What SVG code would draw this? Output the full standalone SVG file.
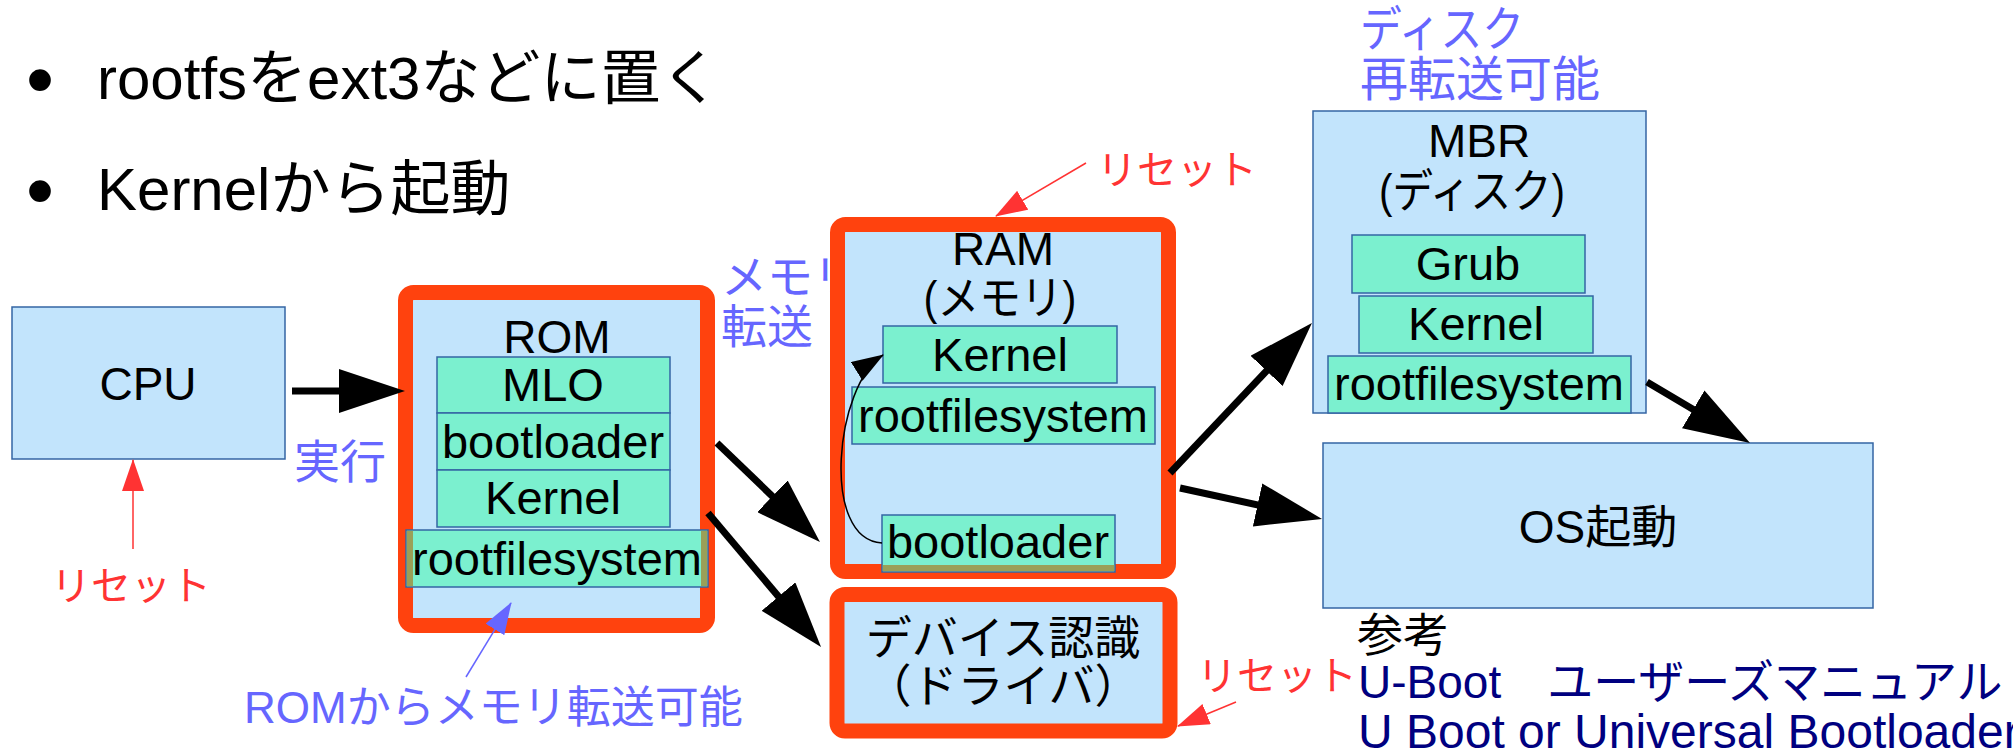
<svg xmlns="http://www.w3.org/2000/svg" width="2013" height="753" viewBox="0 0 2013 753">
<style>
text{font-family:'Liberation Sans','Noto Sans CJK JP',sans-serif;}
.t46{font-size:46px;fill:#000;}
.t47{font-size:47px;fill:#000;}
.mid{text-anchor:middle;}
.title{font-size:60px;fill:#000;}
.dot{font-size:80px;fill:#000;}
.blue{font-size:46px;fill:#6666ff;}
.red{font-size:40px;fill:#ff3333;}
.navy{font-size:46px;fill:#000080;}
.plain{fill:#c2e4fc;stroke:#3465a4;stroke-width:1.5;}
.hot{fill:#c2e4fc;stroke:#ff420e;stroke-width:15;}
.mint{fill:#7bf0cf;stroke:#3465a4;stroke-width:1.5;}
.olive{fill:#9aa058;}
.big{stroke:#000;stroke-width:7;fill:none;marker-end:url(#bigArrow);}
.thinr{stroke:#ff3333;stroke-width:1.5;fill:none;marker-end:url(#redArrow);}
.thinb{stroke:#6666ff;stroke-width:1.5;fill:none;marker-end:url(#blueArrow);}
.think{stroke:#000;stroke-width:1.5;fill:none;marker-end:url(#blackArrow);}
</style>
<defs>
<marker id="bigArrow" markerUnits="userSpaceOnUse" markerWidth="66" markerHeight="44" viewBox="0 0 66 44" refX="54" refY="22" orient="auto"><path d="M0,0 L66,22 L0,44 z" fill="#000"/></marker>
<marker id="redArrow" markerUnits="userSpaceOnUse" markerWidth="32" markerHeight="22" viewBox="0 0 32 22" refX="31" refY="11" orient="auto"><path d="M0,0 L32,11 L0,22 z" fill="#ff3333"/></marker>
<marker id="blueArrow" markerUnits="userSpaceOnUse" markerWidth="32" markerHeight="22" viewBox="0 0 32 22" refX="31" refY="11" orient="auto"><path d="M0,0 L32,11 L0,22 z" fill="#6666ff"/></marker>
<marker id="blackArrow" markerUnits="userSpaceOnUse" markerWidth="32" markerHeight="22" viewBox="0 0 32 22" refX="31" refY="11" orient="auto"><path d="M0,0 L32,11 L0,22 z" fill="#000"/></marker>
</defs>
<rect width="2013" height="753" fill="#fff"/>

<g id="bullets">
<text class="dot" x="26" y="107">•</text>
<text class="title" x="97" y="99">rootfsをext3などに置く</text>
<text class="dot" x="26" y="218">•</text>
<text class="title" x="97" y="210">Kernelから起動</text>
</g>

<g id="labels">
<text class="blue" x="294" y="478">実行</text>
<text class="red" x="51" y="600">リセット</text>
<text class="blue" x="244" y="723" style="font-size:44px">ROMからメモリ転送可能</text>
<text class="blue" x="721" y="293">メモリ</text>
<text class="blue" x="721" y="343">転送</text>
<text class="red" x="1097" y="184">リセット</text>
<text class="red" x="1197" y="690">リセット</text>
<text class="blue" x="1360" y="46" style="font-size:48px" textLength="164" lengthAdjust="spacingAndGlyphs">ディスク</text>
<text class="blue" x="1360" y="96" style="font-size:48px">再転送可能</text>
<text class="t46" x="1357" y="651">参考</text>
<text class="navy" x="1358" y="698">U-Boot　ユーザーズマニュアル</text>
<text class="navy" x="1358" y="748" style="font-size:48px">U Boot or Universal Bootloader</text>
</g>

<g id="cpu">
<rect class="plain" x="12" y="307" width="273" height="152"/>
<text class="t46 mid" x="148" y="400">CPU</text>
</g>

<g id="rom">
<rect class="hot" x="405.5" y="292.5" width="302" height="333" rx="8"/>
<text class="t46 mid" x="557" y="353">ROM</text>
<rect class="mint" x="437" y="357" width="233" height="56"/>
<text class="t47 mid" x="553" y="401">MLO</text>
<rect class="mint" x="437" y="413" width="233" height="57"/>
<text class="t47 mid" x="553" y="458">bootloader</text>
<rect class="mint" x="437" y="470" width="233" height="57"/>
<text class="t47 mid" x="553" y="514">Kernel</text>
<rect class="mint" x="406" y="530" width="302" height="57"/>
<rect class="olive" x="406.8" y="530.8" width="6.2" height="55.4"/>
<rect class="olive" x="701" y="530.8" width="6.2" height="55.4"/>
<text class="t47 mid" x="557" y="575">rootfilesystem</text>
</g>

<g id="ram">
<rect class="hot" x="837.5" y="224.5" width="331" height="347" rx="8"/>
<text class="t46 mid" x="1003" y="265">RAM</text>
<text class="t46 mid" x="1000" y="314" textLength="153" lengthAdjust="spacingAndGlyphs">(メモリ)</text>
<rect class="mint" x="883" y="326" width="234" height="57"/>
<text class="t47 mid" x="1000" y="371">Kernel</text>
<rect class="mint" x="852" y="387" width="303" height="57"/>
<text class="t47 mid" x="1003" y="432">rootfilesystem</text>
<rect class="mint" x="882" y="515" width="233" height="57"/>
<rect class="olive" x="882.8" y="565" width="231.4" height="6.2"/>
<text class="t47 mid" x="998" y="558">bootloader</text>
</g>

<g id="device">
<rect class="hot" x="837" y="594.5" width="333" height="136.5" rx="8"/>
<text class="t46 mid" x="1003" y="654">デバイス認識</text>
<text class="t46 mid" x="1003" y="702">（ドライバ）</text>
</g>

<g id="mbr">
<rect class="plain" x="1313" y="111" width="333" height="302"/>
<text class="t46 mid" x="1479" y="157">MBR</text>
<text class="t46 mid" x="1472" y="207" textLength="186" lengthAdjust="spacingAndGlyphs">(ディスク)</text>
<rect class="mint" x="1352" y="235" width="233" height="58"/>
<text class="t47 mid" x="1468" y="280">Grub</text>
<rect class="mint" x="1359" y="296" width="234" height="57"/>
<text class="t47 mid" x="1476" y="340">Kernel</text>
<rect class="mint" x="1328" y="356" width="303" height="57"/>
<text class="t47 mid" x="1479" y="400">rootfilesystem</text>
</g>

<g id="os">
<rect class="plain" x="1323" y="443" width="550" height="165"/>
<text class="t46 mid" x="1598" y="543">OS起動</text>
</g>

<g id="connectors">
<path class="big" d="M292,391 L393,391"/>
<path class="big" d="M717,443 L811.3,533.7"/>
<path class="big" d="M708,513 L813.3,637.8"/>
<path class="big" d="M1170,473 L1303.7,331.7"/>
<path class="big" d="M1180,488 L1310.3,516.4"/>
<path class="big" d="M1647,382 L1739.7,436.9"/>
<path class="thinr" d="M133,549 L133,460"/>
<path class="thinr" d="M1086,163 L996,216"/>
<path class="thinr" d="M1236,702 L1178,726"/>
<path class="thinb" d="M466,677 L511,603"/>
<path class="think" d="M882,543 C820,540 835,385 883,355"/>
</g>
</svg>
